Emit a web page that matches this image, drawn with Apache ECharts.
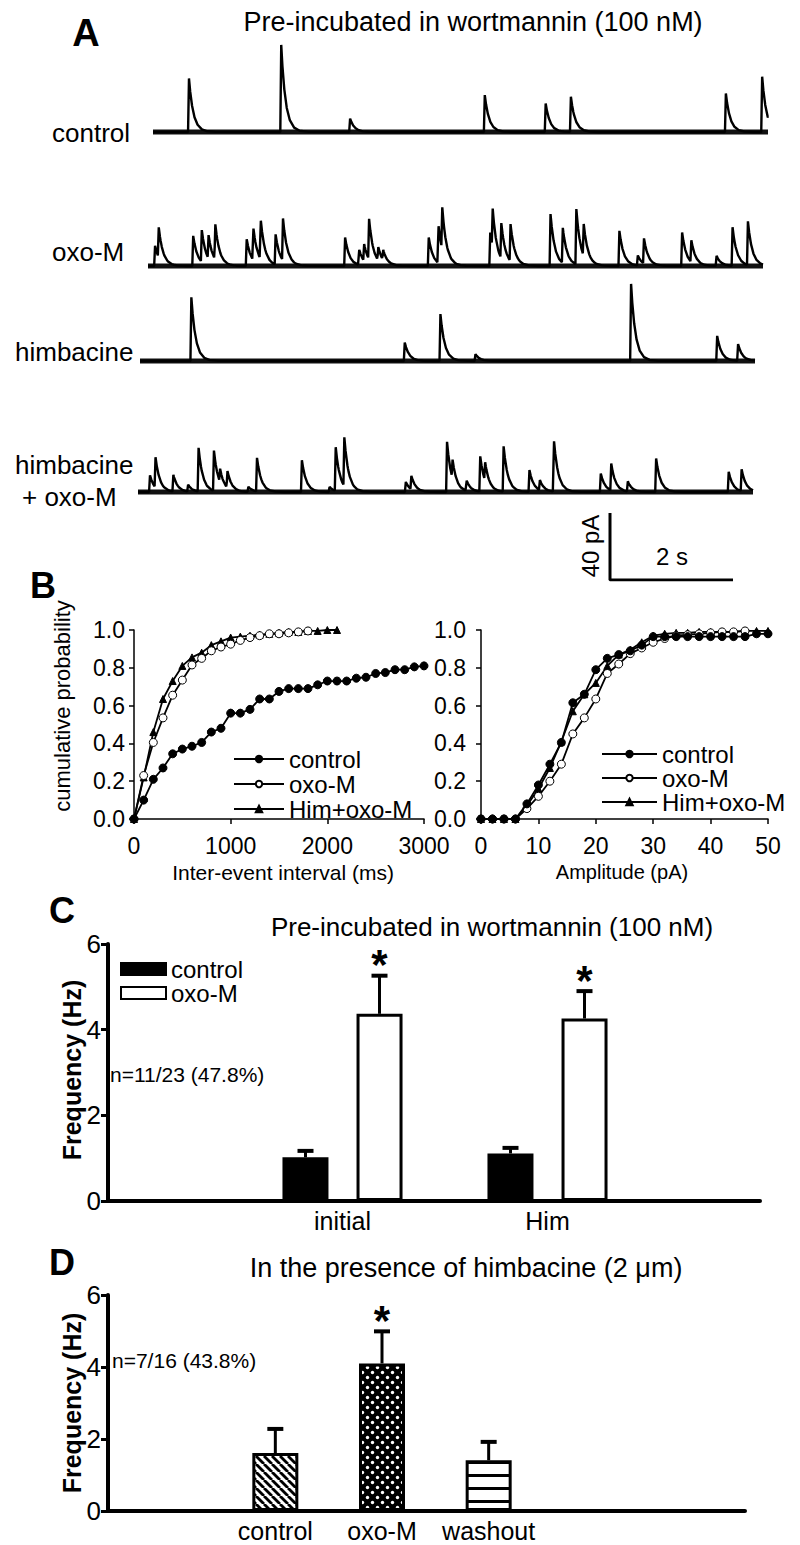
<!DOCTYPE html>
<html>
<head>
<meta charset="utf-8">
<script src="https://cdn.jsdelivr.net/npm/echarts@6/dist/echarts.min.js"></script>
<style>
  html, body { margin: 0; padding: 0; background: #fff; }
  #chart { width: 800px; height: 1545px; }
</style>
</head>
<body>
<div id="chart"></div>
<script>
// ---- A: spontaneous events, time (s) and amplitude (pA)
const ctrlT = [0.57, 2.07, 3.19, 5.38, 6.37, 6.78, 9.30, 9.89];
const ctrlA = [32, 52, 8, 22, 17, 21, 23, 33];

const oxoT = [0.10, 0.16, 0.72, 0.86, 0.97, 1.08, 1.59, 1.70, 1.82, 2.06, 2.18, 3.19, 3.42, 3.50,
  3.58, 3.73, 3.81, 4.55, 4.71, 4.77, 5.55, 5.59, 5.73, 5.88, 6.53, 6.73, 6.95, 7.07, 7.65, 7.95,
  8.05, 8.67, 8.82, 9.23, 9.49, 9.74];
const oxoA = [12, 18, 18, 19, 14, 21, 16, 19, 23, 18, 25, 17, 9, 10,
  24, 8, 6, 17, 22, 25, 20, 23, 21, 22, 31, 21, 33, 19, 21, 6,
  15, 20, 13, 6, 23, 26];

const himT = [0.82, 4.29, 4.87, 5.44, 7.97, 9.37, 9.71];
const himA = [38, 11, 28, 4, 46, 15, 10];

const himOxoT = [0.18, 0.27, 0.56, 0.80, 0.97, 1.22, 1.32, 1.44, 1.78, 1.92, 2.65, 3.10, 3.20, 3.34,
  4.34, 4.43, 5.01, 5.10, 5.33, 5.55, 5.63, 5.93, 6.35, 6.52, 6.75, 7.51, 7.68, 7.95, 8.41, 9.59, 9.80];
const himOxoA = [10, 18, 10, 4, 26, 24, 8, 10, 3, 20, 19, 3, 26, 29,
  6, 8, 30, 11, 6, 21, 11, 27, 13, 6, 30, 11, 16, 6, 20, 12, 13];

const traceLabels = ['control', 'oxo-M', 'himbacine', 'himbacine'];
const TRACE_DUR = 10;     // s
const SCALE_PA = 40;
const SCALE_S = 2;

// ---- B: cumulative probability
const ieiCtrlX = [0, 100, 200, 300, 400, 500, 600, 700, 800, 900, 1000, 1100, 1200, 1300, 1400, 1500,
  1600, 1700, 1800, 1900, 2000, 2100, 2200, 2300, 2400, 2500, 2600, 2700, 2800, 2900, 3000];
const ieiCtrlY = [0, 0.10, 0.21, 0.27, 0.345, 0.37, 0.385, 0.405, 0.46, 0.48, 0.56, 0.56, 0.58, 0.635,
  0.635, 0.675, 0.69, 0.69, 0.69, 0.71, 0.73, 0.73, 0.73, 0.745, 0.75, 0.77, 0.775, 0.79, 0.79, 0.805, 0.81];
const ieiOxoX = [0, 100, 200, 300, 400, 500, 600, 700, 800, 900, 1000, 1100, 1200, 1300, 1400, 1500,
  1600, 1700, 1800];
const ieiOxoY = [0, 0.23, 0.405, 0.535, 0.655, 0.735, 0.815, 0.85, 0.89, 0.91, 0.925, 0.945, 0.96,
  0.97, 0.98, 0.98, 0.985, 0.99, 0.995];
const ieiHimX = [0, 100, 200, 300, 400, 500, 600, 700, 800, 900, 1000, 1100, 1200, 1300, 1400, 1500,
  1600, 1700, 1800, 1900, 2000, 2100];
const ieiHimY = [0, 0.22, 0.46, 0.635, 0.73, 0.81, 0.855, 0.88, 0.92, 0.94, 0.96, 0.965, 0.97,
  0.975, 0.98, 0.985, 0.99, 0.99, 0.995, 0.995, 1.0, 1.0];

const ampCtrlX = [0, 2, 4, 6, 8, 10, 12, 14, 16, 18, 20, 22, 24, 26, 28, 30, 32, 34, 36, 38, 40, 42, 44, 46, 48, 50];
const ampCtrlY = [0, 0, 0, 0, 0.08, 0.18, 0.29, 0.405, 0.615, 0.66, 0.79, 0.85, 0.87, 0.89, 0.92, 0.965,
  0.965, 0.965, 0.965, 0.965, 0.965, 0.965, 0.965, 0.965, 0.98, 0.98];
const ampOxoX = [0, 2, 4, 6, 8, 10, 12, 14, 16, 18, 20, 22, 24, 26, 28, 30, 32, 34, 36, 38, 40, 42, 44, 46];
const ampOxoY = [0, 0, 0, 0, 0.055, 0.12, 0.20, 0.29, 0.45, 0.535, 0.635, 0.77, 0.82, 0.875, 0.905, 0.935,
  0.955, 0.97, 0.975, 0.98, 0.985, 0.99, 0.99, 0.995];
const ampHimX = [0, 2, 4, 6, 8, 10, 12, 14, 16, 18, 20, 22, 24, 26, 28, 30, 32, 34, 36, 38, 40, 42, 44, 46, 48, 50];
const ampHimY = [0, 0, 0, 0, 0.07, 0.16, 0.27, 0.41, 0.57, 0.66, 0.72, 0.81, 0.87, 0.895, 0.935, 0.97,
  0.98, 0.985, 0.985, 0.99, 0.99, 0.99, 0.99, 0.995, 0.995, 0.995];

// ---- C: frequency, wortmannin pre-incubation
const cCats = ['initial', 'Him'];
const cCtrl = [1.02, 1.11];
const cCtrlErr = [0.15, 0.13];
const cOxo = [4.37, 4.26];
const cOxoErr = [0.89, 0.64];
const cOxoStar = [1, 1];

// ---- D: frequency, himbacine
const dCats = ['control', 'oxo-M', 'washout'];
const dMean = [1.61, 4.10, 1.41];
const dErr = [0.67, 0.89, 0.51];
const dStar = [0, 1, 0];

const freqTicks = [0, 2, 4, 6];

// ------------------------------------------------------------------
const FONT = "'Liberation Sans', Arial, sans-serif";
const PX_S = 61.5;     // px per second in A
const PX_PA = 1.675;   // px per pA in A

function buildTrace(times, amps) {
  const RISE = 0.015, TAU = 0.07;
  const steps = [0, RISE, RISE + 0.02, RISE + 0.05, RISE + 0.09, RISE + 0.14, RISE + 0.21, RISE + 0.3, RISE + 0.45];
  let ts = [0, TRACE_DUR];
  times.forEach(t => steps.forEach(s => { if (t + s <= TRACE_DUR) ts.push(+(t + s).toFixed(4)); }));
  ts = Array.from(new Set(ts)).sort((a, b) => a - b);
  return ts.map(t => {
    let v = 0;
    times.forEach((t0, i) => {
      const dt = t - t0;
      if (dt < 0) return;
      v += dt < RISE ? amps[i] * dt / RISE : amps[i] * Math.exp(-(dt - RISE) / TAU);
    });
    return [t, v];
  });
}

function zip(xs, ys) { return xs.map((x, i) => [x, ys[i]]); }

function hatchPattern() {
  const c = document.createElement('canvas');
  c.width = 8; c.height = 8;
  const g = c.getContext('2d');
  g.fillStyle = '#fff'; g.fillRect(0, 0, 8, 8);
  g.strokeStyle = '#000'; g.lineWidth = 2.8;
  [-8, 0, 8].forEach(k => { g.beginPath(); g.moveTo(k, 0); g.lineTo(k + 8, 8); g.stroke(); });
  return { image: c, repeat: 'repeat' };
}
function dotPattern() {
  const c = document.createElement('canvas');
  c.width = 10; c.height = 10;
  const g = c.getContext('2d');
  g.fillStyle = '#000'; g.fillRect(0, 0, 10, 10);
  g.fillStyle = '#fff';
  [[2.5, 2.5], [7.5, 7.5]].forEach(p => { g.beginPath(); g.arc(p[0], p[1], 1.7, 0, Math.PI * 2); g.fill(); });
  return { image: c, repeat: 'repeat' };
}
function stripePattern() {
  const c = document.createElement('canvas');
  c.width = 10; c.height = 13;
  const g = c.getContext('2d');
  g.fillStyle = '#fff'; g.fillRect(0, 0, 10, 13);
  g.fillStyle = '#000'; g.fillRect(0, 5, 10, 3);
  return { image: c, repeat: 'repeat' };
}

const chart = echarts.init(document.getElementById('chart'), null, { renderer: 'svg' });

const grids = [];
const xAxes = [];
const yAxes = [];
const series = [];

// A traces
const traceStartX = [153, 148, 140, 138];
const traceBaseY = [132, 266, 361, 492];
const traceData = [[ctrlT, ctrlA], [oxoT, oxoA], [himT, himA], [himOxoT, himOxoA]];
traceData.forEach((d, i) => {
  grids.push({ left: traceStartX[i], top: traceBaseY[i] - 55 * PX_PA, width: TRACE_DUR * PX_S, height: 60 * PX_PA });
  xAxes.push({ type: 'value', gridIndex: i, min: 0, max: TRACE_DUR, show: false });
  yAxes.push({ type: 'value', gridIndex: i, min: -5, max: 55, show: false });
  series.push({
    name: 'base' + i, type: 'line', xAxisIndex: i, yAxisIndex: i, silent: true,
    data: [[0, 0], [TRACE_DUR, 0]], showSymbol: false,
    lineStyle: { color: '#111', width: 5 }
  });
  series.push({
    name: 'trace' + i, type: 'line', xAxisIndex: i, yAxisIndex: i, silent: true,
    data: buildTrace(d[0], d[1]), showSymbol: false,
    lineStyle: { color: '#000', width: 2.4 }
  });
});

// scale bar (grid 4)
grids.push({ left: 610, top: 580 - SCALE_PA * PX_PA, width: SCALE_S * PX_S, height: SCALE_PA * PX_PA });
xAxes.push({ type: 'value', gridIndex: 4, min: 0, max: SCALE_S, show: false });
yAxes.push({ type: 'value', gridIndex: 4, min: 0, max: SCALE_PA, show: false });
series.push({
  name: 'scalebar', type: 'line', xAxisIndex: 4, yAxisIndex: 4, silent: true,
  data: [[0, SCALE_PA], [0, 0], [SCALE_S, 0]], showSymbol: false,
  lineStyle: { color: '#000', width: 3 }
});

// B grids 5 & 6
const bAxisLine = { show: true, lineStyle: { color: '#000', width: 1.5 } };
const bTick = { show: true, length: 5, lineStyle: { color: '#000', width: 1.5 } };
const bLabel = { color: '#000', fontSize: 23, fontFamily: FONT };
grids.push({ left: 134, top: 630, width: 290, height: 189 });
grids.push({ left: 481, top: 630, width: 287, height: 189 });
xAxes.push({ type: 'value', gridIndex: 5, min: 0, max: 3000, interval: 1000, axisLine: bAxisLine, axisTick: bTick,
  axisLabel: Object.assign({ margin: 15, formatter: v => String(v) }, bLabel), splitLine: { show: false } });
xAxes.push({ type: 'value', gridIndex: 6, min: 0, max: 50, interval: 10, axisLine: bAxisLine, axisTick: bTick,
  axisLabel: Object.assign({ margin: 15, formatter: v => String(v) }, bLabel), splitLine: { show: false } });
[5, 6].forEach(g => yAxes.push({
  type: 'value', gridIndex: g, min: 0, max: 1, interval: 0.2, offset: g === 6 ? 6 : 0,
  axisLine: bAxisLine, axisTick: bTick,
  axisLabel: Object.assign({ margin: 9, formatter: v => v.toFixed(1) }, bLabel), splitLine: { show: false }
}));

const bSeriesStyle = [
  { key: 'control', symbol: 'circle', size: 8, color: '#000', border: '#000' },
  { key: 'oxo-M', symbol: 'circle', size: 8, color: '#fff', border: '#000' },
  { key: 'Him+oxo-M', symbol: 'triangle', size: 7, color: '#000', border: '#000' }
];
const ieiData = [zip(ieiCtrlX, ieiCtrlY), zip(ieiOxoX, ieiOxoY), zip(ieiHimX, ieiHimY)];
const ampData = [zip(ampCtrlX, ampCtrlY), zip(ampOxoX, ampOxoY), zip(ampHimX, ampHimY)];
[[5, ieiData, 'iei '], [6, ampData, 'amp ']].forEach(([g, sets, pre]) => {
  sets.forEach((data, k) => {
    const st = bSeriesStyle[k];
    series.push({
      name: pre + st.key, type: 'line', xAxisIndex: g, yAxisIndex: g, data,
      symbol: st.symbol, symbolSize: st.size, showAllSymbol: true,
      lineStyle: { color: '#000', width: 1.8 },
      itemStyle: { color: st.color, borderColor: st.border, borderWidth: 1 },
      z: 3 - k
    });
  });
});

// C grids 7 (axes) & 8 (bars); D grids 9 & 10
const fLine = { show: true, lineStyle: { color: '#000', width: 4 } };
const fLabel = { color: '#000', fontSize: 25, fontFamily: FONT };
function freqAxes(axisGrid, barGrid, cats, left, top, width, height, barLeft, barWidth) {
  grids.push({ left, top, width, height });
  grids.push({ left: barLeft, top, width: barWidth, height });
  xAxes.push({ type: 'value', gridIndex: axisGrid, min: 0, max: 1, axisLine: fLine, axisTick: { show: false },
    axisLabel: { show: false }, splitLine: { show: false } });
  yAxes.push({ type: 'value', gridIndex: axisGrid, min: freqTicks[0], max: freqTicks[freqTicks.length - 1],
    interval: freqTicks[1] - freqTicks[0], axisLine: fLine,
    axisTick: { show: true, length: 7, lineStyle: { color: '#000', width: 3 } },
    axisLabel: Object.assign({ margin: 7 }, fLabel, { fontSize: 26 }), splitLine: { show: false } });
  xAxes.push({ type: 'category', gridIndex: barGrid, data: cats, axisLine: { show: false }, axisTick: { show: false },
    axisLabel: Object.assign({ margin: 7, interval: 0 }, fLabel) });
  yAxes.push({ type: 'value', gridIndex: barGrid, min: freqTicks[0], max: freqTicks[freqTicks.length - 1], show: false });
}
freqAxes(7, 8, cCats, 108, 944, 652, 257, 240, 410);
freqAxes(9, 10, dCats, 108, 1295, 637, 216, 222, 320);

function errorRenderer(offsetPx, capHalf) {
  return function (params, api) {
    const i = api.value(0), m = api.value(1), e = api.value(2), star = api.value(3);
    const base = api.coord([i, m]);
    const top = api.coord([i, m + e]);
    const x = base[0] + offsetPx;
    const children = [
      { type: 'line', shape: { x1: x, y1: base[1], x2: x, y2: top[1] }, style: { stroke: '#000', lineWidth: 3 } },
      { type: 'line', shape: { x1: x - capHalf, y1: top[1], x2: x + capHalf, y2: top[1] }, style: { stroke: '#000', lineWidth: 4 } }
    ];
    if (star) {
      children.push({ type: 'text', style: { text: '*', x: x, y: top[1] + 10, align: 'center', verticalAlign: 'bottom',
        font: 'bold 42px ' + FONT, fill: '#000' } });
    }
    return { type: 'group', children };
  };
}

series.push({
  name: 'c control', type: 'bar', xAxisIndex: 8, yAxisIndex: 8, data: cCtrl, barWidth: 46, barGap: '61%',
  itemStyle: { color: '#000', borderColor: '#000', borderWidth: 3 }
});
series.push({
  name: 'c oxo-M', type: 'bar', xAxisIndex: 8, yAxisIndex: 8, data: cOxo, barWidth: 46, barGap: '61%',
  itemStyle: { color: '#fff', borderColor: '#000', borderWidth: 3 }
});
series.push({
  name: 'c ctrl err', type: 'custom', xAxisIndex: 8, yAxisIndex: 8, silent: true, z: 5,
  data: cCtrl.map((v, i) => [i, v, cCtrlErr[i], 0]), renderItem: errorRenderer(-37, 8)
});
series.push({
  name: 'c oxo err', type: 'custom', xAxisIndex: 8, yAxisIndex: 8, silent: true, z: 5,
  data: cOxo.map((v, i) => [i, v, cOxoErr[i], cOxoStar[i]]), renderItem: errorRenderer(37, 8)
});

const dFills = [hatchPattern(), dotPattern(), stripePattern()];
series.push({
  name: 'd freq', type: 'bar', xAxisIndex: 10, yAxisIndex: 10, barWidth: 46,
  data: dMean.map((v, i) => ({ value: v, itemStyle: { color: dFills[i], borderColor: '#000', borderWidth: 3 } }))
});
series.push({
  name: 'd err', type: 'custom', xAxisIndex: 10, yAxisIndex: 10, silent: true, z: 5,
  data: dMean.map((v, i) => [i, v, dErr[i], dStar[i]]), renderItem: errorRenderer(0, 8)
});

const legendNames = {
  'iei control': 'control', 'iei oxo-M': 'oxo-M', 'iei Him+oxo-M': 'Him+oxo-M',
  'amp control': 'control', 'amp oxo-M': 'oxo-M', 'amp Him+oxo-M': 'Him+oxo-M',
  'c control': 'control', 'c oxo-M': 'oxo-M'
};
const legText = { color: '#000', fontSize: 24, fontFamily: FONT, lineHeight: 18 };

function txt(text, x, y, size, opts) {
  return Object.assign({
    type: 'text', x, y,
    style: Object.assign({ text, font: size + 'px ' + FONT, fill: '#000', align: 'left', verticalAlign: 'middle' },
      opts && opts.style)
  }, opts && opts.el);
}

const graphics = [
  txt('A', 86, 33, 38, { style: { font: 'bold 38px ' + FONT, align: 'center' } }),
  txt('Pre-incubated in wortmannin (100 nM)', 473, 22, 27, { style: { align: 'center' } }),
  txt(traceLabels[0], 52, 133, 26),
  txt(traceLabels[1], 52, 252, 26),
  txt(traceLabels[2], 15, 352, 26),
  txt(traceLabels[3], 15, 465, 26),
  txt('+ oxo-M', 22, 497, 26),
  txt(SCALE_PA + ' pA', 590, 546, 24, { style: { align: 'center' }, el: { rotation: Math.PI / 2 } }),
  txt(SCALE_S + ' s', 672, 556, 24, { style: { align: 'center' } }),
  txt('B', 43, 585, 36, { style: { font: 'bold 36px ' + FONT, align: 'center' } }),
  txt('cumulative probability', 62, 706, 22, { style: { align: 'center' }, el: { rotation: Math.PI / 2 } }),
  txt('Inter-event interval (ms)', 283, 872, 21, { style: { align: 'center' } }),
  txt('Amplitude (pA)', 622, 872, 20, { style: { align: 'center' } }),
  txt('C', 62, 910, 36, { style: { font: 'bold 36px ' + FONT, align: 'center' } }),
  txt('Pre-incubated in wortmannin (100 nM)', 492, 927, 26, { style: { align: 'center' } }),
  txt('Frequency (Hz)', 72, 1070, 25, { style: { font: 'bold 25px ' + FONT, align: 'center' }, el: { rotation: Math.PI / 2 } }),
  txt('n=11/23 (47.8%)', 110, 1074, 21),
  txt('D', 62, 1262, 36, { style: { font: 'bold 36px ' + FONT, align: 'center' } }),
  txt('In the presence of himbacine (2 \u03bcm)', 466, 1268, 27, { style: { align: 'center' } }),
  txt('Frequency (Hz)', 72, 1403, 25, { style: { font: 'bold 25px ' + FONT, align: 'center' }, el: { rotation: Math.PI / 2 } }),
  txt('n=7/16 (43.8%)', 112, 1360, 21)
];

chart.setOption({
  backgroundColor: '#fff',
  animation: false,
  grid: grids,
  xAxis: xAxes,
  yAxis: yAxes,
  legend: [
    { data: ['iei control', 'iei oxo-M', 'iei Him+oxo-M'], left: 228, top: 742, orient: 'vertical',
      itemWidth: 50, itemHeight: 8, itemGap: 1, textStyle: legText, formatter: n => legendNames[n], selectedMode: false },
    { data: ['amp control', 'amp oxo-M', 'amp Him+oxo-M'], left: 596, top: 737, orient: 'vertical',
      itemWidth: 55, itemHeight: 8, itemGap: 0, textStyle: legText, formatter: n => legendNames[n], selectedMode: false },
    { data: ['c control', 'c oxo-M'], left: 115, top: 952, orient: 'vertical', icon: 'rect',
      itemWidth: 45, itemHeight: 12, itemGap: 0, textStyle: { color: '#000', fontSize: 24, fontFamily: FONT, lineHeight: 21 },
      formatter: n => legendNames[n], selectedMode: false }
  ],
  graphic: graphics,
  series
});
window.addEventListener('resize', () => chart.resize());
</script>
</body>
</html>
